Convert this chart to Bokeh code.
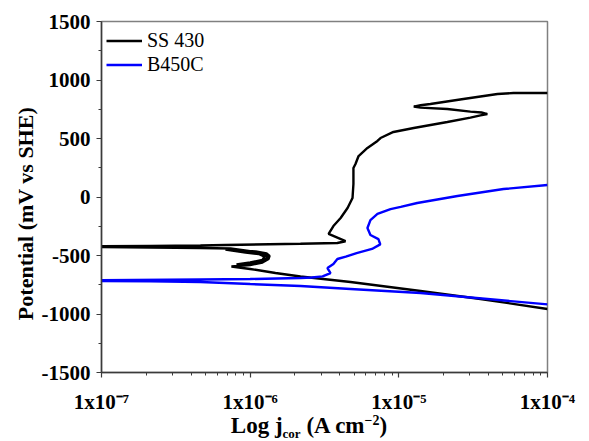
from bokeh.plotting import figure
from bokeh.models import (Range1d, FixedTicker, CustomJSTickFormatter, Div,
                          Legend, LegendItem)
from bokeh.layouts import column
from bokeh.embed import file_html
from bokeh.resources import INLINE

# ---------------- data ----------------
series_names = ["SS 430", "B450C"]
series_colors = ["#000000", "#0000ff"]

# SS 430: current density (A cm^-2) and potential (mV vs SHE)
ss430_j = [1.0e-4, 3.54e-5, 1.40e-5, 4.73e-6, 2.18e-6, 1.48e-6, 1.00e-6, 7.48e-7,
           1.00e-6, 1.21e-6, 1.33e-6, 1.35e-6, 1.29e-6, 1.09e-6, 8.61e-7, 6.82e-7,
           9.31e-7, 1.14e-6, 1.25e-6, 1.21e-6, 1.00e-6, 8.09e-7,
           1.04e-6, 1.25e-6, 1.31e-6, 1.21e-6, 9.75e-7, 7.38e-7, 4.63e-7, 2.14e-7, 1.0e-7,
           1.0e-7, 2.14e-7, 4.63e-7, 6.82e-7, 2.18e-6, 3.86e-6,
           4.38e-6, 3.37e-6, 3.63e-6, 4.06e-6, 4.52e-6, 4.88e-6, 4.95e-6, 4.95e-6,
           5.11e-6, 5.36e-6, 6.15e-6, 7.18e-6, 7.53e-6, 9.20e-6, 1.26e-5, 2.12e-5,
           3.03e-5, 3.54e-5, 3.94e-5, 3.60e-5, 3.03e-5, 2.12e-5, 1.40e-5, 1.26e-5,
           1.40e-5, 1.63e-5, 2.72e-5, 4.61e-5, 5.90e-5, 1.0e-4]
ss430_E = [-957, -872, -803, -727, -679, -650, -615, -594,
           -581, -560, -530, -504, -483, -466, -457, -449,
           -474, -487, -509, -538, -560, -577,
           -568, -543, -513, -479, -462, -440, -436, -432, -427,
           -421, -418, -414, -410, -400, -393,
           -378, -316, -248, -179, -94, -9, 111, 248,
           282, 350, 419, 479, 504, 556, 590, 641,
           679, 698, 709, 722, 730, 752, 764, 773,
           784, 795, 838, 880, 889, 889]

# B450C
b450c_j = [1.0e-4, 1.40e-5, 4.73e-6, 2.18e-6, 1.0e-6, 4.63e-7, 2.14e-7, 1.0e-7,
           1.0e-7, 4.63e-7, 1.0e-6, 2.18e-6, 2.60e-6, 3.07e-6, 3.47e-6, 3.31e-6,
           3.63e-6, 3.86e-6, 4.40e-6, 5.20e-6, 6.60e-6, 7.50e-6, 7.29e-6, 6.44e-6,
           6.15e-6, 6.44e-6, 7.18e-6, 8.79e-6, 1.03e-5, 1.33e-5, 2.48e-5, 5.06e-5,
           1.0e-4]
b450c_E = [-918, -820, -786, -761, -744, -726, -720, -718,
           -712, -705, -701, -692, -688, -678, -650, -607,
           -573, -530, -510, -479, -444, -405, -360, -325,
           -265, -197, -145, -103, -85, -51, 9, 68,
           103]

x_major_ticks = [1e-7, 1e-6, 1e-5, 1e-4]
x_minor_ticks = [m * d for d in x_major_ticks[:-1] for m in range(2, 10)]
y_major_ticks = [-1500, -1000, -500, 0, 500, 1000, 1500]
y_minor_ticks = [-1250, -750, -250, 250, 750, 1250]

y_title = "Potential (mV vs SHE)"
x_title_main = "Log j"
x_title_sub = "cor"
x_title_rest = " (A cm"
x_title_sup = "\u22122"

# ---------------- figure ----------------
W, H_FIG, H_DIV = 581, 416, 23
FONT = "Liberation Serif"

p = figure(width=W, height=H_FIG, x_axis_type="log",
           x_range=Range1d(1e-7, 1e-4), y_range=Range1d(-1500, 1500),
           output_backend="svg", toolbar_location=None,
           min_border_left=101, min_border_right=34,
           min_border_top=21, min_border_bottom=H_FIG - 372)
p.background_fill_color = "white"
p.border_fill_color = "white"
p.xgrid.visible = False
p.ygrid.visible = False
p.outline_line_color = "#808080"
p.outline_line_width = 1.5

r1 = p.line(ss430_j, ss430_E, line_color=series_colors[0], line_width=2.4)
r2 = p.line(b450c_j, b450c_E, line_color=series_colors[1], line_width=2.4)

p.xaxis.ticker = FixedTicker(ticks=x_major_ticks, minor_ticks=x_minor_ticks)
p.yaxis.ticker = FixedTicker(ticks=y_major_ticks, minor_ticks=y_minor_ticks)
p.xaxis.formatter = CustomJSTickFormatter(code=r"""
const sup = {"-":"\u207b","0":"\u2070","1":"\u00b9","2":"\u00b2","3":"\u00b3",
             "4":"\u2074","5":"\u2075","6":"\u2076","7":"\u2077","8":"\u2078","9":"\u2079"};
const e = Math.round(Math.log10(tick));
return "1x10" + String(e).split("").map(c => sup[c]).join("");
""")
p.yaxis.formatter = CustomJSTickFormatter(code="return tick.toFixed(0);")

for ax in (p.xaxis[0], p.yaxis[0]):
    ax.axis_line_color = "#3a3a3a"
    ax.axis_line_width = 1.5
    ax.major_tick_line_color = "#3a3a3a"
    ax.minor_tick_line_color = "#3a3a3a"
    ax.major_tick_line_width = 1.2
    ax.minor_tick_line_width = 1.0
    ax.major_tick_out = 5
    ax.major_tick_in = 0
    ax.minor_tick_out = 3
    ax.minor_tick_in = 0
    ax.major_label_text_font = FONT
    ax.major_label_text_font_style = "bold"
    ax.major_label_text_font_size = "21px"
    ax.major_label_text_color = "black"
p.yaxis.major_label_standoff = 6
p.xaxis.major_label_standoff = 12

p.yaxis.axis_label = y_title + "\u00a0" * 6
p.yaxis.axis_label_text_font = FONT
p.yaxis.axis_label_text_font_style = "bold"
p.yaxis.axis_label_text_font_size = "22px"
p.yaxis.axis_label_text_color = "black"
p.yaxis.axis_label_standoff = 1

legend = Legend(items=[LegendItem(label=series_names[0], renderers=[r1]),
                       LegendItem(label=series_names[1], renderers=[r2])],
                location=(5, 296), padding=0, margin=0, spacing=1,
                label_height=21, glyph_height=21, glyph_width=36, label_standoff=5,
                border_line_alpha=0, background_fill_alpha=0,
                label_text_font=FONT, label_text_font_size="20px",
                label_text_font_style="normal", label_text_color="black")
p.add_layout(legend)

# x axis title with subscript / superscript as HTML text under the figure
html = (f'<div style="width:{W}px;height:{H_DIV}px;box-sizing:border-box;'
        f'padding-left:37px;text-align:center;white-space:nowrap;'
        f'font-family:\'{FONT}\';font-weight:bold;font-size:23px;line-height:20px;color:black;">'
        f'{x_title_main}<span style="font-size:13px;position:relative;top:5px;">{x_title_sub}</span>'
        f'{x_title_rest}<span style="font-size:14px;position:relative;top:-8px;">{x_title_sup}</span>)'
        f'</div>')
div = Div(text=html, width=W, height=H_DIV, margin=(0, 0, 0, 0))

layout = column(p, div, spacing=0)
open("out.html", "w").write(file_html(layout, INLINE))
